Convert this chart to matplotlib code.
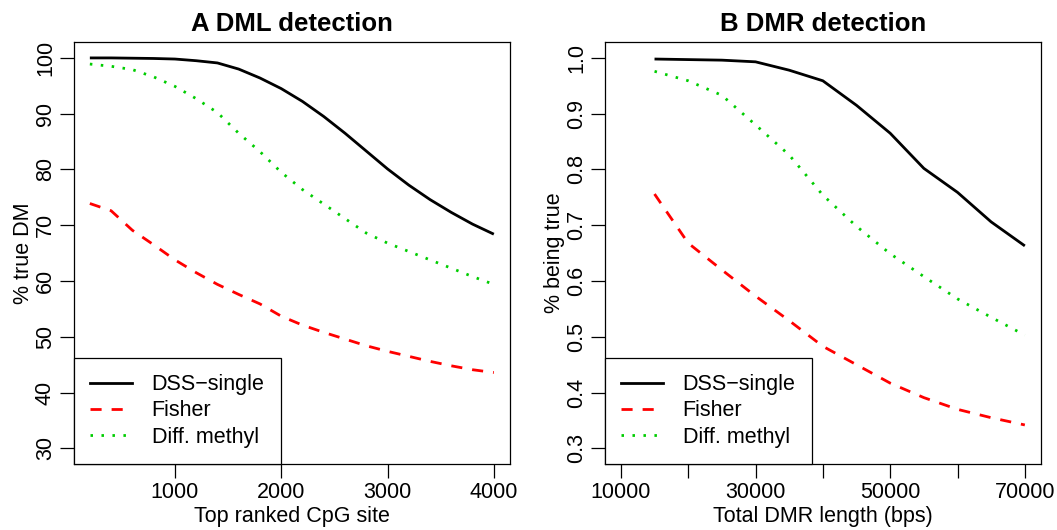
import matplotlib
matplotlib.use("Agg")
import matplotlib.pyplot as plt
from matplotlib.lines import Line2D

plt.rcParams['font.family'] = ['Liberation Sans', 'DejaVu Sans']

# ---- Panel A data ----
a_x = [200, 400, 600, 800, 1000, 1200, 1400, 1600, 1800, 2000,
       2200, 2400, 2600, 2800, 3000, 3200, 3400, 3600, 3800, 4000]
a_dss = [100.0, 100.0, 99.95, 99.9, 99.8, 99.5, 99.1, 98.0, 96.4, 94.5,
         92.2, 89.5, 86.5, 83.3, 80.1, 77.2, 74.6, 72.3, 70.2, 68.4]
a_fisher = [73.9, 72.6, 69.1, 66.5, 63.8, 61.5, 59.4, 57.6, 55.9, 53.7,
            52.1, 50.8, 49.6, 48.4, 47.4, 46.5, 45.6, 44.8, 44.1, 43.6]
a_diff = [98.9, 98.5, 97.9, 96.6, 94.9, 92.7, 90.2, 86.5, 83.2, 79.5,
          76.4, 73.8, 71.2, 68.6, 66.8, 65.3, 63.8, 62.3, 60.8, 59.4]
a_xticks = [1000, 2000, 3000, 4000]
a_yticks = [30, 40, 50, 60, 70, 80, 90, 100]

# ---- Panel B data ----
b_x = [15000, 20000, 25000, 30000, 35000, 40000, 45000, 50000,
       55000, 60000, 65000, 70000]
b_dss = [0.998, 0.997, 0.996, 0.993, 0.978, 0.959, 0.915, 0.865,
         0.802, 0.759, 0.706, 0.663]
b_fisher = [0.756, 0.668, 0.620, 0.573, 0.529, 0.483, 0.450, 0.417,
            0.391, 0.370, 0.355, 0.342]
b_diff = [0.976, 0.959, 0.933, 0.880, 0.826, 0.754, 0.698, 0.649,
          0.608, 0.568, 0.535, 0.503]
b_xticks = [10000, 20000, 30000, 40000, 50000, 60000, 70000]
b_xticklabels = ["10000", "", "30000", "", "50000", "", "70000"]
b_yticks = [0.3, 0.4, 0.5, 0.6, 0.7, 0.8, 0.9, 1.0]

series_names = ["DSS\u2212single", "Fisher", "Diff. methyl"]
colors = ["black", "#FF0000", "#00CD00"]

LW = 2.0
styles = ["-", (0, (4.0, 3.6)), (0, (0.9, 3.05))]
FS = 15.5

fig = plt.figure(figsize=(10.57, 5.30), dpi=100)
W, H = 1057, 530


def make_ax(left_px):
    return fig.add_axes([left_px / W, (H - 464) / H, 436.3 / W, 421.7 / H])


def style_ax(ax, title, xlabel, ylabel, xlim_data, ylim_data, xticks, yticks,
             xticklabels=None, ytickfmt=str):
    dx = (xlim_data[1] - xlim_data[0]) * 0.04
    dy = (ylim_data[1] - ylim_data[0]) * 0.04
    ax.set_xlim(xlim_data[0] - dx, xlim_data[1] + dx)
    ax.set_ylim(ylim_data[0] - dy, ylim_data[1] + dy)
    for s in ax.spines.values():
        s.set_linewidth(0.9)
    ax.set_xticks(xticks)
    ax.set_xticklabels(xticklabels if xticklabels is not None else [str(t) for t in xticks],
                       fontsize=FS)
    ax.set_yticks(yticks)
    ax.set_yticklabels([ytickfmt(t) for t in yticks], fontsize=FS,
                       rotation=90, va='center')
    ax.tick_params(axis='both', direction='out', length=9.8, width=0.9, pad=3)
    ax.set_title(title, fontsize=18.5, fontweight='bold', pad=8)
    ax.set_xlabel(xlabel, fontsize=FS, labelpad=2)
    ax.set_ylabel(ylabel, fontsize=FS, labelpad=0.5)


def draw(ax, x, ys):
    for y, c, ls in zip(ys, colors, styles):
        ax.plot(x, y, color=c, linestyle=ls, linewidth=LW,
                dash_capstyle='butt', solid_capstyle='butt')


def add_legend(ax):
    handles = [Line2D([], [], color=c, linestyle=ls, linewidth=LW)
               for c, ls in zip(colors, styles)]
    leg = ax.legend(handles, series_names, loc='lower left', bbox_to_anchor=(0, 0),
                    borderaxespad=0, fancybox=False, frameon=True, framealpha=1,
                    edgecolor='black', fontsize=FS, handlelength=1.94,
                    handletextpad=0.93, borderpad=0.75, labelspacing=0.25)
    leg.get_frame().set_linewidth(0.9)
    return leg


axA = make_ax(73.7)
draw(axA, a_x, [a_dss, a_fisher, a_diff])
style_ax(axA, "A DML detection", "Top ranked CpG site", "% true DM",
         (200, 4000), (30, 100), a_xticks, a_yticks)
add_legend(axA)

axB = make_ax(604.7)
draw(axB, b_x, [b_dss, b_fisher, b_diff])
style_ax(axB, "B DMR detection", "Total DMR length (bps)", "% being true",
         (10000, 70000), (0.3, 1.0), b_xticks, b_yticks,
         xticklabels=b_xticklabels, ytickfmt=lambda t: f"{t:.1f}")
add_legend(axB)

fig.savefig("out.png", dpi=100)
